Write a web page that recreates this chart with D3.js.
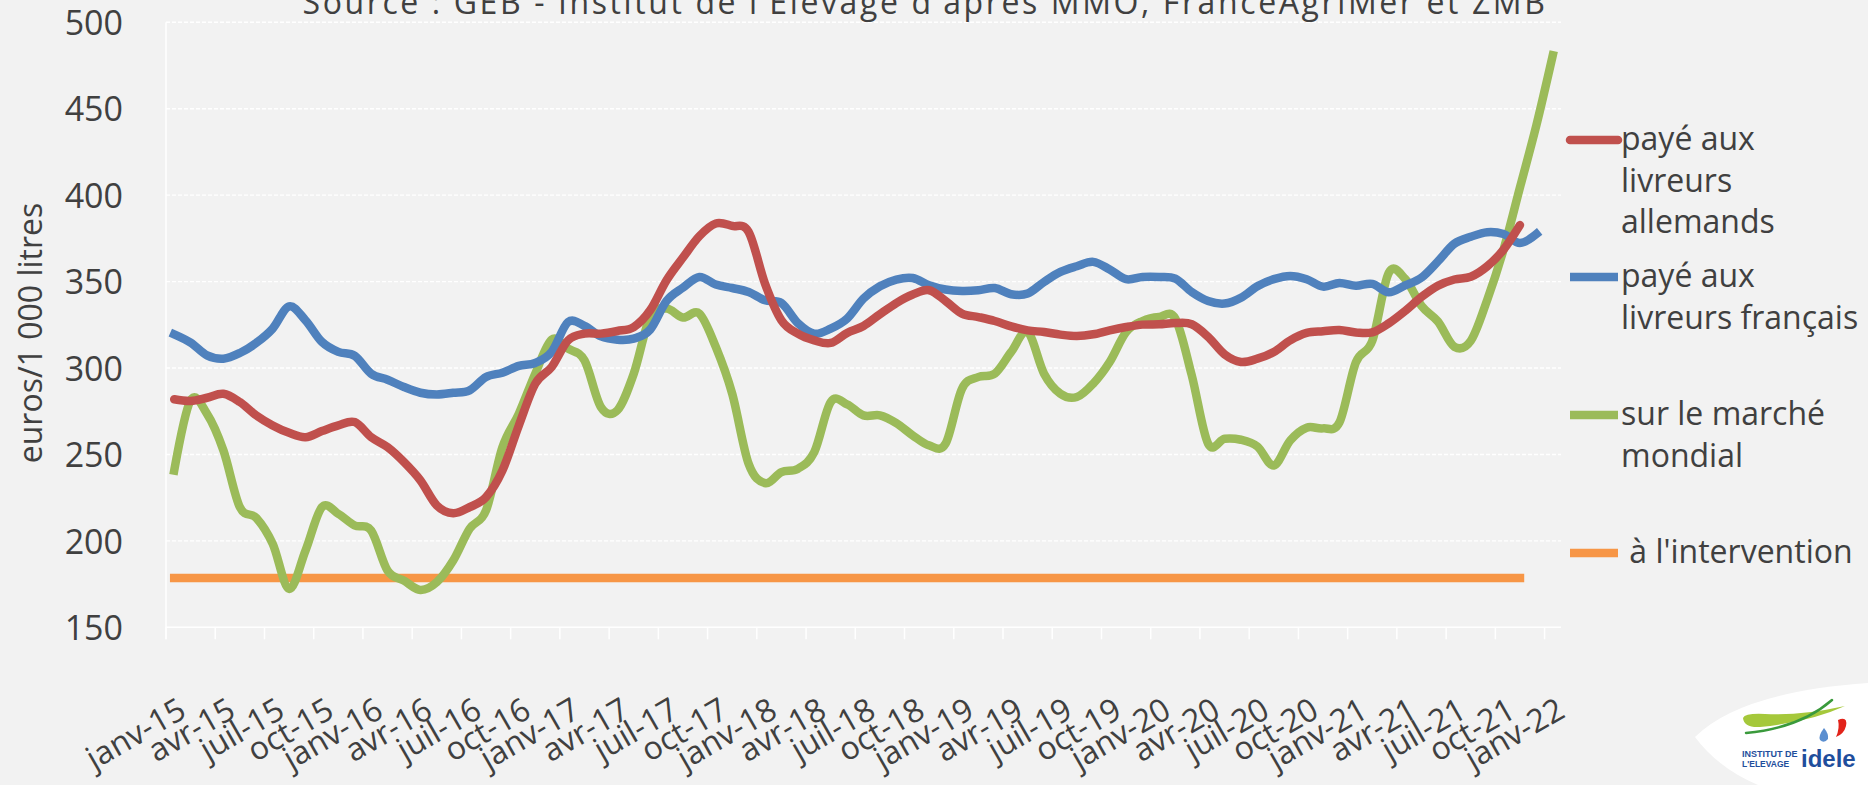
<!DOCTYPE html>
<html>
<head>
<meta charset="utf-8">
<script src="https://cdn.jsdelivr.net/npm/d3@7"></script>
<style>
  html, body { margin: 0; padding: 0; background: #f2f2f2; }
  svg { display: block; font-family: 'Open Sans', sans-serif; }
</style>
</head>
<body>
<div id="chart"></div>
<script>
const tickLabels = ['janv-15', 'avr-15', 'juil-15', 'oct-15', 'janv-16', 'avr-16', 'juil-16', 'oct-16',
  'janv-17', 'avr-17', 'juil-17', 'oct-17', 'janv-18', 'avr-18', 'juil-18', 'oct-18',
  'janv-19', 'avr-19', 'juil-19', 'oct-19', 'janv-20', 'avr-20', 'juil-20', 'oct-20',
  'janv-21', 'avr-21', 'juil-21', 'oct-21', 'janv-22'];

const monthCount = 85;
const yTicks = [150, 200, 250, 300, 350, 400, 450, 500];

const allemands = [281.9, 280.9, 282.8, 285.1, 280.3, 272.6, 266.8, 262.5, 260, 263.5, 266.8, 268.7,
  260, 254.2, 245.6, 235, 220.5, 216, 219.5, 225.3, 240.7, 266.8, 290.9, 300.6,
  316, 319.9, 319.9, 321.4, 323.7, 333.4, 350.8, 363.9, 376.3, 383.6, 382.2, 378.8,
  348.8, 327.6, 319.9, 316, 314.5, 320.3, 324.3, 331.1, 337.6, 342.5, 345, 338.8,
  331.5, 329.5, 327.2, 324.1, 321.8, 320.8, 319.3, 318.5, 319.5, 321.8, 323.7, 325.1,
  325.3, 326, 325.3, 318, 307.9, 303.5, 305.4, 309.3, 316, 320.3, 321.3, 322,
  320.6, 320.6, 325.8, 333, 341.1, 347.6, 351.2, 352.8, 358.8, 368.5, 382.7];

const francais = [319.5, 314.7, 307.3, 305.4, 308.7, 314.5, 322.8, 335.7, 327.6, 315.1, 309.3, 307,
  296.7, 293.2, 289, 285.7, 284.7, 285.7, 287.1, 294.8, 297.3, 301.2, 302.9, 309.3,
  326.6, 324.3, 318.3, 316.4, 317, 322.2, 338.8, 346.5, 352.7, 348.3, 346.3, 344,
  339.2, 337.6, 326, 319.9, 322.8, 328.6, 340.2, 347.3, 351.2, 352.1, 347.9, 345.4,
  344.6, 345, 346.3, 342.7, 343.1, 349.8, 355.6, 358.9, 361.4, 357, 351.4, 352.7,
  352.7, 351.7, 344, 338.8, 337.3, 340.7, 347.3, 351.4, 353.3, 351.4, 347.1, 349.2,
  347.6, 348.7, 343.8, 347.8, 352.3, 361.7, 371.9, 375.9, 378.6, 377.5, 372.3, 377.5];

const mondial = [240.7, 281.3, 273.5, 252.3, 219.5, 213.3, 198.3, 172.2, 194.4, 219.5, 215.6, 208.9,
  206, 182.8, 177, 171.6, 176.1, 188.6, 207, 217.6, 254.2, 273.6, 296.7, 316.4,
  311.2, 304.4, 277.4, 275.5, 296.7, 329.5, 334.4, 329.2, 331.5, 312.2, 285.1, 244.6,
  233.4, 239.8, 241.7, 251.3, 280.3, 279, 272.6, 272.6, 268.1, 261, 255.2, 256.2,
  288, 294.8, 296.7, 309.3, 320.8, 296.7, 285.1, 283.2, 291, 303.5, 320.8, 327.2,
  329.5, 328.6, 295.8, 256.2, 259.1, 258.5, 254.6, 243.6, 258.1, 265.5, 265.1, 268.5,
  303.3, 315.7, 355, 351.6, 335.9, 326.9, 312.3, 315.7, 339.3, 368.5, 404.5, 440.4, 480.9];

const intervention = [178.5, 178.5, 178.5, 178.5, 178.5, 178.5, 178.5, 178.5, 178.5, 178.5, 178.5, 178.5,
  178.5, 178.5, 178.5, 178.5, 178.5, 178.5, 178.5, 178.5, 178.5, 178.5, 178.5, 178.5,
  178.5, 178.5, 178.5, 178.5, 178.5, 178.5, 178.5, 178.5, 178.5, 178.5, 178.5, 178.5,
  178.5, 178.5, 178.5, 178.5, 178.5, 178.5, 178.5, 178.5, 178.5, 178.5, 178.5, 178.5,
  178.5, 178.5, 178.5, 178.5, 178.5, 178.5, 178.5, 178.5, 178.5, 178.5, 178.5, 178.5,
  178.5, 178.5, 178.5, 178.5, 178.5, 178.5, 178.5, 178.5, 178.5, 178.5, 178.5, 178.5,
  178.5, 178.5, 178.5, 178.5, 178.5, 178.5, 178.5, 178.5, 178.5, 178.5, 178.5];

const series = [
  { name: ['payé aux', 'livreurs', 'allemands'], values: allemands, color: '#c0504d', cap: 'round' },
  { name: ['payé aux', 'livreurs français'], values: francais, color: '#4f81bd', cap: 'square' },
  { name: ['sur le marché', 'mondial'], values: mondial, color: '#9bbb59', cap: 'square' },
  { name: [' à l\'intervention'], values: intervention, color: '#f79646', cap: 'square' }
];

const Chart = {

  build(container) {
    const width = 1868;
    const height = 785;
    const textColor = '#404040';

    const svg = d3.select(container)
      .append('svg')
      .attr('width', width)
      .attr('height', height);

    svg.append('rect')
      .attr('width', width)
      .attr('height', height)
      .attr('fill', '#f2f2f2');

    const x = d3.scaleBand()
      .domain(d3.range(monthCount))
      .range([166, 1561])
      .paddingInner(0)
      .paddingOuter(0);
    const cx = k => x(k) + x.bandwidth() / 2;

    const y = d3.scaleLinear()
      .domain([150, 500])
      .range([627.3, 22.3]);

    // grid
    svg.append('g')
      .selectAll('line')
      .data(yTicks.slice(1))
      .enter()
      .append('line')
      .attr('x1', 166)
      .attr('x2', 1561)
      .attr('y1', d => y(d))
      .attr('y2', d => y(d))
      .attr('stroke', '#ffffff')
      .attr('stroke-width', 1.4)
      .attr('stroke-dasharray', '4,2');

    // axes
    const xAxis = d3.axisBottom(x)
      .tickValues(d3.range(0, monthCount, 3))
      .tickSize(12)
      .tickFormat('')
      .offset(0);
    const gx = svg.append('g')
      .attr('transform', `translate(0,${y(150)})`)
      .call(xAxis);
    gx.select('.domain').remove();
    gx.selectAll('.tick')
      .attr('transform', d => `translate(${x(d)},0)`);
    gx.selectAll('.tick line')
      .attr('stroke', '#ffffff')
      .attr('stroke-width', 1.5);
    gx.append('line')
      .attr('x1', 166)
      .attr('x2', 1561)
      .attr('stroke', '#ffffff')
      .attr('stroke-width', 1.5);

    svg.append('line')
      .attr('x1', 166)
      .attr('x2', 166)
      .attr('y1', y(500))
      .attr('y2', y(150) + 12)
      .attr('stroke', '#ffffff')
      .attr('stroke-width', 1.5);

    const yAxis = d3.axisLeft(y)
      .tickValues(yTicks)
      .tickSize(0)
      .tickPadding(0);
    const gy = svg.append('g')
      .attr('transform', 'translate(123,0)')
      .call(yAxis);
    gy.select('.domain').remove();
    gy.selectAll('text')
      .attr('fill', textColor)
      .style('font-size', '34px')
      .style('font-family', "'Open Sans', sans-serif")
      .attr('dy', '0.36em');

    svg.append('g')
      .selectAll('text')
      .data(tickLabels)
      .enter()
      .append('text')
      .attr('transform', (d, i) => `translate(${cx(i * 3) + 14},716) rotate(-30)`)
      .attr('text-anchor', 'end')
      .attr('fill', textColor)
      .style('font-size', '32px')
      .text(d => d);

    svg.append('text')
      .attr('transform', 'translate(42,333) rotate(-90)')
      .attr('text-anchor', 'middle')
      .attr('fill', textColor)
      .style('font-size', '32px')
      .text('euros/1 000 litres');

    svg.append('text')
      .attr('x', 925)
      .attr('y', 14)
      .attr('text-anchor', 'middle')
      .attr('fill', textColor)
      .style('font-size', '32px')
      .style('letter-spacing', '2.6px')
      .text('Source : GEB - Institut de l\'Elevage d\'après MMO, FranceAgriMer et ZMB');

    // lines
    const line = d3.line()
      .x((d, i) => cx(i))
      .y(d => y(d))
      .curve(d3.curveCatmullRom.alpha(0));

    svg.append('g')
      .selectAll('path')
      .data(series.slice().reverse())
      .enter()
      .append('path')
      .attr('d', d => line(d.values))
      .attr('fill', 'none')
      .attr('stroke', d => d.color)
      .attr('stroke-width', 8.5)
      .attr('stroke-linecap', d => d.cap)
      .attr('stroke-linejoin', 'round');

    // legend
    const legendY = [140, 277, 415, 553];
    const legend = svg.append('g')
      .selectAll('g')
      .data(series)
      .enter()
      .append('g')
      .attr('transform', (d, i) => `translate(1568,${legendY[i]})`);

    legend.append('line')
      .attr('x1', 2)
      .attr('x2', 50)
      .attr('stroke', d => d.color)
      .attr('stroke-width', 8.5)
      .attr('stroke-linecap', d => d.cap === 'round' ? 'round' : 'butt');

    legend.append('text')
      .attr('x', 53)
      .attr('y', 10)
      .attr('fill', textColor)
      .style('font-size', '32px')
      .style('white-space', 'pre')
      .selectAll('tspan')
      .data(d => d.name)
      .enter()
      .append('tspan')
      .attr('x', 53)
      .attr('dy', (d, i) => i === 0 ? 0 : 41.5)
      .text(d => d);

    this.buildLogo(svg);
  },

  buildLogo(svg) {
    const logo = svg.append('g');

    logo.append('path')
      .attr('d', 'M1695,737 Q1740,692 1868,683 L1868,785 L1758,785 Q1718,768 1695,737 Z')
      .attr('fill', '#ffffff');

    logo.append('path')
      .attr('d', 'M1743,718 Q1745,713 1765,714 Q1800,716 1845,706 Q1810,722 1760,727 Q1744,728 1743,718 Z')
      .attr('fill', '#a5c83b');

    logo.append('path')
      .attr('d', 'M1746,733 Q1800,728 1832,700')
      .attr('fill', 'none')
      .attr('stroke', '#3a9a3c')
      .attr('stroke-width', 2.5)
      .attr('stroke-linecap', 'round');

    logo.append('path')
      .attr('d', 'M1838,720 Q1848,716 1846,726 Q1844,734 1836,737 Q1840,728 1838,720 Z')
      .attr('fill', '#e2231a');

    logo.append('path')
      .attr('d', 'M1824,728 Q1818,736 1820,740 Q1824,744 1828,739 Q1829,734 1824,728 Z')
      .attr('fill', '#5b8fd0');

    logo.append('text')
      .attr('x', 1742)
      .attr('y', 757)
      .attr('fill', '#1f4e9c')
      .style('font-size', '9px')
      .style('font-weight', '700')
      .style('font-family', "'Liberation Sans', sans-serif")
      .text('INSTITUT DE');

    logo.append('text')
      .attr('x', 1742)
      .attr('y', 767)
      .attr('fill', '#1f4e9c')
      .style('font-size', '8.5px')
      .style('font-weight', '700')
      .style('font-family', "'Liberation Sans', sans-serif")
      .text('L\'ELEVAGE');

    logo.append('text')
      .attr('x', 1801)
      .attr('y', 767)
      .attr('fill', '#1f4e9c')
      .style('font-size', '24px')
      .style('font-weight', '700')
      .style('font-family', "'Liberation Sans', sans-serif")
      .text('idele');
  }
};

Chart.build(document.getElementById('chart'));
</script>
</body>
</html>
